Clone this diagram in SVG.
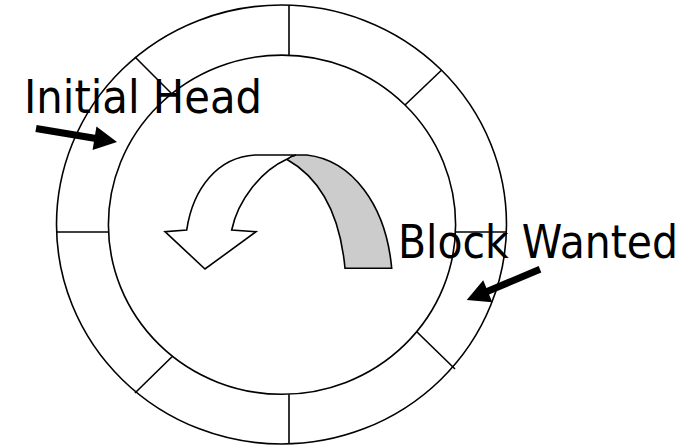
<svg xmlns="http://www.w3.org/2000/svg" width="697" height="445" viewBox="0 0 697 445">
<style>
.ln{fill:none;stroke:#000;stroke-width:1.6}
.lbl{font-family:"DejaVu Sans","Liberation Sans",sans-serif;font-size:46px;fill:#000}
.ptr{fill:#000;stroke:none}
.wht{fill:#fff;stroke:#000;stroke-width:1.6;stroke-linejoin:miter}
.gry{fill:#cccccc;stroke:#000;stroke-width:1.6}
</style>
<rect width="697" height="445" fill="#fff"/>
<g id="disk">
<ellipse class="ln" cx="281.5" cy="224.5" rx="225" ry="219.5"/>
<ellipse class="ln" cx="282" cy="224.7" rx="173.6" ry="169.6"/>
<line class="ln" x1="289" y1="5" x2="289" y2="55"/>
<line class="ln" x1="289" y1="394.3" x2="289" y2="444"/>
<line class="ln" x1="56.5" y1="232" x2="108.4" y2="232"/>
<line class="ln" x1="455.6" y1="232" x2="506.6" y2="232"/>
<line class="ln" x1="135" y1="57" x2="171.5" y2="93.5"/>
<line class="ln" x1="441.7" y1="70" x2="405" y2="105"/>
<line class="ln" x1="135" y1="393" x2="172" y2="356.7"/>
<line class="ln" x1="455" y1="369" x2="417" y2="332"/>
</g>
<g id="rotation-arrow">
<path class="gry" d="M286.7,159.3 C289,157.5 292,155.8 296,155 L306.7,155 C352,160 386,205 391.7,268.3 L345,268.3 C340,215 320,178 286.7,159.3 Z"/>
<path class="wht" d="M186.7,230 C193,188 218,157 255,155 L296,155 C292,155.8 289,157.5 286.7,159.3 C261,171 238,200 231.7,230 L256,231.7 L205,269 L165,231.7 Z"/>
</g>
<g id="initial-head">
<text class="lbl" x="24" y="113" textLength="238" lengthAdjust="spacingAndGlyphs">Initial Head</text>
</g>
<g id="block-wanted">
<text class="lbl" x="398" y="258" textLength="280" lengthAdjust="spacingAndGlyphs">Block Wanted</text>
</g>
<g id="connectors">
<polygon class="ptr" points="36.6,125.05 95.07,134.81 96.44,126.6 117,142 92.56,149.9 93.93,141.71 35.4,131.95"/>
<polygon class="ptr" points="538.66,265.97 486.41,288.01 483.22,280.35 466.7,300 492.28,302.13 489.09,294.47 541.34,272.43"/>
</g>
</svg>
